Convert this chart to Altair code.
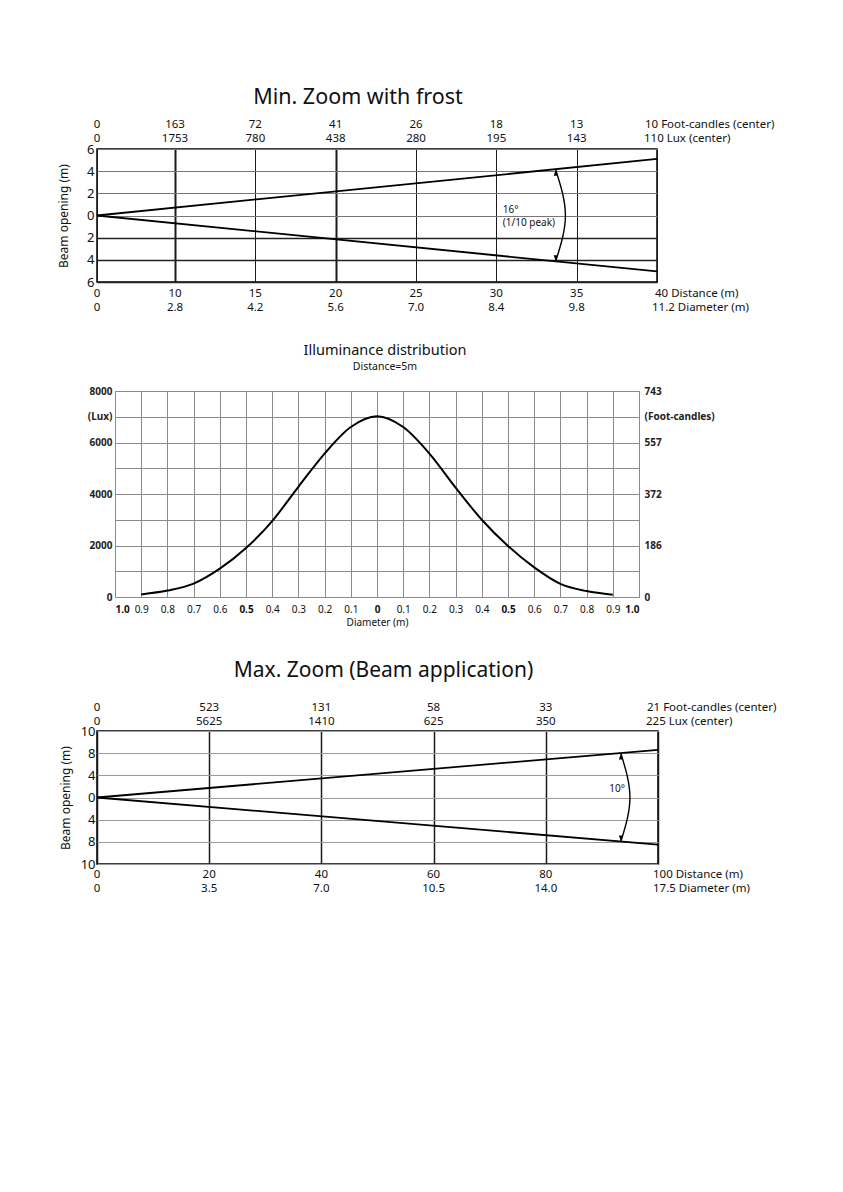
import altair as alt
import pandas as pd

FONT = "Noto Sans"
INK = "#111111"
ROW_FONT = 11.5

# ---------------- Min. Zoom with frost ----------------
top_dist = [0, 10, 15, 20, 25, 30, 35, 40]
top_dist_lbl = ["0", "10", "15", "20", "25", "30", "35", "40"]
top_fc = ["0", "163", "72", "41", "26", "18", "13", "10"]
top_lux = ["0", "1753", "780", "438", "280", "195", "143", "110"]
top_diam = ["0", "2.8", "4.2", "5.6", "7.0", "8.4", "9.8", "11.2"]
top_beam_d = [0, 40]
top_beam_upper = [0, 5.1]
top_beam_lower = [0, -5.05]
top_arc_d = [33.7, 34.3, 33.7]
top_arc_b = [4.1, 0, -4.1]
top_open_ticks = [-6, -4, -2, 0, 2, 4, 6]
top_note_d = [30.4, 30.4]
top_note_b = [0.5, -0.7]
top_note_t = ["16°", "(1/10 peak)"]

# ---------------- Illuminance distribution ----------------
ill_diam = [-0.9, -0.8, -0.7, -0.6, -0.5, -0.4, -0.3, -0.2, -0.1, 0.0,
            0.1, 0.2, 0.3, 0.4, 0.5, 0.6, 0.7, 0.8, 0.9]
ill_lux = [100, 250, 520, 1100, 1900, 2950, 4280, 5570, 6600, 7020,
           6600, 5570, 4250, 3000, 1980, 1150, 510, 230, 90]
ill_x_ticks = [-1.0, -0.9, -0.8, -0.7, -0.6, -0.5, -0.4, -0.3, -0.2, -0.1, 0.0,
               0.1, 0.2, 0.3, 0.4, 0.5, 0.6, 0.7, 0.8, 0.9, 1.0]
ill_lux_ticks = [0, 1000, 2000, 3000, 4000, 5000, 6000, 7000, 8000]
ill_lux_labels = {0: "0", 2000: "2000", 4000: "4000", 6000: "6000", 7000: "(Lux)", 8000: "8000"}
ill_fc_labels = {0: "0", 2000: "186", 4000: "372", 6000: "557", 7000: "(Foot-candles)", 8000: "743"}

# ---------------- Max. Zoom (Beam application) ----------------
bot_dist = [0, 20, 40, 60, 80, 100]
bot_dist_lbl = ["0", "20", "40", "60", "80", "100"]
bot_fc = ["0", "523", "131", "58", "33", "21"]
bot_lux = ["0", "5625", "1410", "625", "350", "225"]
bot_diam = ["0", "3.5", "7.0", "10.5", "14.0", "17.5"]
bot_beam_d = [0, 100]
bot_beam_upper = [0, 8.3]
bot_beam_lower = [0, -8.25]
bot_arc_d = [93.4, 95.0, 93.4]
bot_arc_b = [7.9, 0, -7.9]
bot_open_ticks = [-10, -8, -4, 0, 4, 8, 10]
bot_note_d = [92.7]
bot_note_b = [1.6]
bot_note_t = ["10°"]

ARROW_UP = "M0,0 L-0.55,1.5 L0.55,1.5 Z"
ARROW_DOWN = "M0,0 L-0.55,-1.5 L0.55,-1.5 Z"


def expr_map(mapping):
    parts = [f"datum.value == {k} ? '{v}'" for k, v in mapping.items()]
    return " : ".join(parts) + " : ''"


def label_rows(x_enc, dists, rows):
    layers = []
    for labels, unit, ypos, last_dx in rows:
        df = pd.DataFrame({"d": dists[:-1], "t": labels[:-1]})
        layers.append(
            alt.Chart(df).mark_text(align="center", baseline="middle", fontSize=ROW_FONT,
                                    font=FONT, color=INK)
            .encode(x=x_enc, y=alt.value(ypos), text="t:N")
        )
        df2 = pd.DataFrame({"d": [dists[-1]], "t": [labels[-1] + " " + unit]})
        layers.append(
            alt.Chart(df2).mark_text(align="left", baseline="middle", fontSize=ROW_FONT,
                                     font=FONT, color=INK, dx=last_dx)
            .encode(x=x_enc, y=alt.value(ypos), text="t:N")
        )
    return layers


def beam_chart(dists, beam_d, upper, lower, arc_d, arc_b, note_d, note_b, note_t,
               x_enc, y_enc, rows, width, height, title, title_size, title_dx, title_offset,
               note_align):
    beam = pd.DataFrame({
        "d": beam_d + beam_d,
        "b": upper + lower,
        "edge": ["upper"] * len(beam_d) + ["lower"] * len(beam_d),
    })
    lines = alt.Chart(beam).mark_line(color="black", strokeWidth=1.8).encode(
        x=x_enc, y=y_enc, detail="edge:N")
    arc = alt.Chart(pd.DataFrame({"d": arc_d, "b": arc_b, "i": list(range(len(arc_d)))})
                    ).mark_line(color="black", strokeWidth=1.4, interpolate="natural").encode(
        x=x_enc, y=y_enc, order="i:O")
    tip_up = alt.Chart(pd.DataFrame({"d": arc_d[:1], "b": arc_b[:1]})).mark_point(
        shape=ARROW_UP, filled=True, color="black", size=60, opacity=1).encode(x=x_enc, y=y_enc)
    tip_dn = alt.Chart(pd.DataFrame({"d": arc_d[-1:], "b": arc_b[-1:]})).mark_point(
        shape=ARROW_DOWN, filled=True, color="black", size=60, opacity=1).encode(x=x_enc, y=y_enc)
    note = alt.Chart(pd.DataFrame({"d": note_d, "b": note_b, "t": note_t})).mark_text(
        align=note_align, baseline="middle", fontSize=10, font=FONT, color=INK).encode(
        x=x_enc, y=y_enc, text="t:N")
    layers = [lines, arc, tip_up, tip_dn, note] + label_rows(x_enc, dists, rows)
    return alt.layer(*layers).properties(
        width=width, height=height,
        title=alt.TitleParams(title, fontSize=title_size, font=FONT, fontWeight="normal",
                              color=INK, anchor="middle", dx=title_dx, offset=title_offset,
                              frame="group"),
    )


# ---- top chart encodings
x_top = alt.X("d:Q", scale=alt.Scale(domain=[0, 10, 40], range=[0, 78, 560], nice=False, zero=False),
              axis=alt.Axis(values=top_dist, labels=False, ticks=False, domain=False, title=None,
                            grid=True, gridColor="#1a1a1a",
                            gridWidth=alt.condition("datum.value == 10 || datum.value == 20",
                                                    alt.value(2), alt.value(1))))
y_top = alt.Y("b:Q", scale=alt.Scale(domain=[-6, 6], nice=False),
              axis=alt.Axis(values=top_open_ticks, labelExpr="format(abs(datum.value), 'd')",
                            ticks=False, domain=False, labelFontSize=13, labelPadding=3,
                            labelColor=INK, grid=True,
                            gridColor=alt.condition("datum.value < 0", alt.value("#222222"),
                                                    alt.value("#777777")),
                            gridWidth=alt.condition("datum.value < 0", alt.value(1.5), alt.value(1)),
                            title="Beam opening (m)", titleFontSize=12, titleFontWeight="normal",
                            titleColor=INK, titlePadding=16))
top_chart = beam_chart(
    top_dist, top_beam_d, top_beam_upper, top_beam_lower, top_arc_d, top_arc_b,
    top_note_d, top_note_b, top_note_t, x_top, y_top,
    [(top_fc, "Foot-candles (center)", -24, -12),
     (top_lux, "Lux (center)", -10, -13),
     (top_dist_lbl, " Distance (m)", 145, -2),
     (top_diam, "Diameter (m)", 159, -5)],
    560, 133, "Min. Zoom with frost", 21.5, -19, 11, "left")

# ---- bottom chart encodings
h_bot = 133
x_bot = alt.X("d:Q", scale=alt.Scale(domain=[0, 100], nice=False),
              axis=alt.Axis(values=bot_dist, labels=False, ticks=False, domain=False, title=None,
                            grid=True, gridColor="#1a1a1a", gridWidth=1.5))
y_bot = alt.Y("b:Q", scale=alt.Scale(domain=bot_open_ticks,
                                     range=[h_bot * k / 6 for k in range(6, -1, -1)], nice=False),
              axis=alt.Axis(values=bot_open_ticks, labelExpr="format(abs(datum.value), 'd')",
                            ticks=False, domain=False, labelFontSize=13, labelPadding=2,
                            labelColor=INK, grid=True, gridColor="#9a9a9a", gridWidth=1,
                            title="Beam opening (m)", titleFontSize=12, titleFontWeight="normal",
                            titleColor=INK, titlePadding=7.5))
bot_chart = beam_chart(
    bot_dist, bot_beam_d, bot_beam_upper, bot_beam_lower, bot_arc_d, bot_arc_b,
    bot_note_d, bot_note_b, bot_note_t, x_bot, y_bot,
    [(bot_fc, "Foot-candles (center)", -23, -11),
     (bot_lux, "Lux (center)", -9, -12),
     (bot_dist_lbl, "Distance (m)", 144, -5),
     (bot_diam, "Diameter (m)", 158, -5)],
    561, h_bot, "Max. Zoom (Beam application)", 21, 6, 21, "center")

# ---- middle chart
ill = pd.DataFrame({"r": ill_diam, "lux": ill_lux})
x_mid = alt.X("r:Q", scale=alt.Scale(domain=[-1, 1], nice=False),
              axis=alt.Axis(values=ill_x_ticks,
                            labelExpr="abs(datum.value) < 0.001 ? '0' : format(abs(datum.value), '.1f')",
                            labelFontWeight=alt.condition(
                                "abs(datum.value) < 0.001 || abs(abs(datum.value) - 0.5) < 0.001 || abs(abs(datum.value) - 1) < 0.001",
                                alt.value("bold"), alt.value("normal")),
                            labelFontSize=10, labelColor=INK, labelPadding=7, ticks=False, domain=False,
                            grid=True, gridColor="#8a8a8a", gridWidth=1,
                            title="Diameter (m)", titleFontSize=10, titleFontWeight="normal",
                            titleColor=INK, titlePadding=3))
y_mid_left = alt.Y("lux:Q", scale=alt.Scale(domain=[0, 8000], nice=False),
                   axis=alt.Axis(values=ill_lux_ticks, labelExpr=expr_map(ill_lux_labels),
                                 labelFontSize=10, labelFontWeight="bold", labelColor="#222",
                                 labelPadding=3, ticks=False, domain=False, grid=True,
                                 gridColor="#8a8a8a", gridWidth=1, title=None))
y_mid_right = alt.Y("lux:Q", scale=alt.Scale(domain=[0, 8000], nice=False),
                    axis=alt.Axis(orient="right", values=ill_lux_ticks, labelExpr=expr_map(ill_fc_labels),
                                  labelFontSize=10, labelFontWeight="bold", labelColor="#222",
                                  labelPadding=5, ticks=False, domain=False, grid=False, title=None))
curve = alt.Chart(ill).mark_line(color="black", strokeWidth=2, interpolate="monotone").encode(
    x=x_mid, y=y_mid_left)
curve_r = alt.Chart(ill).mark_line(opacity=0).encode(x=x_mid, y=y_mid_right)
mid_chart = alt.layer(curve, curve_r).resolve_axis(y="independent").properties(
    width=524, height=206,
    view=alt.ViewBackground(stroke="#8a8a8a", strokeWidth=1),
    title=alt.TitleParams("Illuminance distribution", subtitle="Distance=5m", fontSize=14.5,
                          font=FONT, fontWeight="normal", color=INK, subtitleFont=FONT,
                          subtitleFontSize=10.5, subtitleColor=INK, subtitlePadding=3,
                          anchor="middle", dx=8, offset=13, frame="group"),
)

inner = alt.vconcat(top_chart, mid_chart, spacing=109, center=True, bounds="flush")
chart = alt.vconcat(inner, bot_chart, spacing=31).properties(
    padding={"left": 48, "top": 77, "right": 5, "bottom": 5},
).configure(font=FONT).configure_view(stroke="black", strokeWidth=1.5)

chart.save("out.html", embed_options={"renderer": "svg", "actions": False})
